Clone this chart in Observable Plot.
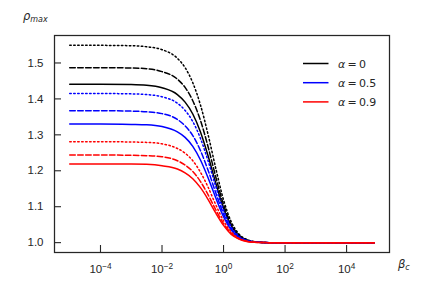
<!DOCTYPE html>
<html>
<head>
<meta charset="utf-8">
<script src="https://cdn.jsdelivr.net/npm/d3@7"></script>
<script src="https://cdn.jsdelivr.net/npm/@observablehq/plot@0.6"></script>
<style>
  html, body { margin: 0; padding: 0; background: #fff; }
  #chart { width: 432px; height: 288px; }
</style>
</head>
<body>
<div id="chart"></div>
<script>
// beta_c sample positions
const betaC = [1e-5, 1e-4, 1e-3, 3.16e-3, 1e-2, 3.16e-2, 5.62e-2, 0.1, 0.178, 0.316, 0.562, 1, 1.78, 3.16, 5.62, 10, 31.6, 100, 1000, 1e4, 7.94e4];

// alpha = 0 (black)
const rhoA0Solid  = [1.441,1.441,1.440,1.438,1.431,1.412,1.391,1.358,1.308,1.241,1.165,1.096,1.047,1.019,1.007,1.002,1.000,1.000,1.000,1.000,1.000];
const rhoA0Dashed = [1.487,1.487,1.486,1.484,1.476,1.455,1.432,1.395,1.340,1.266,1.182,1.106,1.051,1.021,1.008,1.002,1.000,1.000,1.000,1.000,1.000];
const rhoA0Dotted = [1.549,1.549,1.548,1.545,1.537,1.513,1.487,1.445,1.383,1.300,1.206,1.119,1.058,1.024,1.009,1.003,1.000,1.000,1.000,1.000,1.000];
// alpha = 0.5 (blue)
const rhoA5Solid  = [1.330,1.330,1.329,1.328,1.323,1.308,1.293,1.268,1.230,1.180,1.124,1.072,1.035,1.014,1.005,1.002,1.000,1.000,1.000,1.000,1.000];
const rhoA5Dashed = [1.367,1.367,1.366,1.364,1.359,1.343,1.325,1.298,1.256,1.201,1.138,1.080,1.039,1.016,1.006,1.002,1.000,1.000,1.000,1.000,1.000];
const rhoA5Dotted = [1.415,1.415,1.414,1.412,1.406,1.388,1.368,1.337,1.290,1.227,1.156,1.090,1.044,1.018,1.006,1.002,1.000,1.000,1.000,1.000,1.000];
// alpha = 0.9 (red)
const rhoA9Solid  = [1.219,1.219,1.219,1.218,1.214,1.205,1.194,1.178,1.153,1.120,1.082,1.048,1.023,1.010,1.003,1.001,1.000,1.000,1.000,1.000,1.000];
const rhoA9Dashed = [1.244,1.244,1.243,1.242,1.239,1.228,1.216,1.198,1.170,1.133,1.091,1.053,1.026,1.011,1.004,1.001,1.000,1.000,1.000,1.000,1.000];
const rhoA9Dotted = [1.281,1.281,1.280,1.279,1.275,1.262,1.249,1.228,1.196,1.154,1.105,1.061,1.030,1.012,1.004,1.001,1.000,1.000,1.000,1.000,1.000];

const alphaLabels = ["α = 0", "α = 0.5", "α = 0.9"];
const alphaColors = ["#000000", "#0000ff", "#ff0000"];
const xTicks = [1e-4, 1e-2, 1, 1e2, 1e4];
const yTicks = [1.0, 1.1, 1.2, 1.3, 1.4, 1.5];

const dashes = { solid: null, dashed: "5.55,2.4", dotted: "1.5,2.475" };
const seriesList = [
  { values: rhoA0Solid,  alpha: 0, style: "solid" },
  { values: rhoA0Dashed, alpha: 0, style: "dashed" },
  { values: rhoA0Dotted, alpha: 0, style: "dotted" },
  { values: rhoA5Solid,  alpha: 1, style: "solid" },
  { values: rhoA5Dashed, alpha: 1, style: "dashed" },
  { values: rhoA5Dotted, alpha: 1, style: "dotted" },
  { values: rhoA9Solid,  alpha: 2, style: "solid" },
  { values: rhoA9Dashed, alpha: 2, style: "dashed" },
  { values: rhoA9Dotted, alpha: 2, style: "dotted" }
];

const ink = "#262626";
const W = 432, H = 288, mL = 54, mR = 43, mT = 35, mB = 36;
const plotH = H - mT - mB, plotW = W - mL - mR;
const tickLen = 7;

const lineMarks = seriesList.map(s => Plot.line(
  betaC.map((b, i) => ({ b, r: s.values[i] })),
  { x: "b", y: "r", stroke: alphaColors[s.alpha], strokeWidth: 1.5,
    strokeDasharray: dashes[s.style], curve: "monotone-x" }
));

const svg = Plot.plot({
  width: W, height: H,
  marginLeft: mL, marginRight: mR, marginTop: mT, marginBottom: mB,
  style: { fontFamily: "'Liberation Sans', Arial, sans-serif", fontSize: "11.5px", color: ink, background: "#fff" },
  x: { type: "log", domain: [Math.pow(10, -5.495), Math.pow(10, 5.395)] },
  y: { domain: [0.97255, 1.57645] },
  marks: [
    ...lineMarks,
    Plot.tickX(xTicks, { x: d => d, stroke: ink, strokeWidth: 1.1, insetTop: plotH - tickLen }),
    Plot.tickY(yTicks, { y: d => d, stroke: ink, strokeWidth: 1.1, insetRight: plotW - tickLen }),
    Plot.axisX({ ticks: xTicks, tickSize: 0, tickPadding: 12, label: null, fontSize: 11.5,
      tickFormat: d => "E" + Math.round(Math.log10(d)), fill: ink }),
    Plot.axisY({ ticks: yTicks, tickSize: 0, tickPadding: 11, label: null, fontSize: 11.5,
      tickFormat: d => d.toFixed(1), fill: ink }),
    Plot.frame({ stroke: ink, strokeWidth: 1.25 })
  ]
});

// superscript exponents on the log-axis labels
d3.select(svg).selectAll('g[aria-label="x-axis tick label"] text').each(function () {
  const t = d3.select(this);
  const m = t.text().match(/-?\d+/);
  const e = m ? parseInt(m[0], 10) : 0;
  t.text("10");
  t.append("tspan").attr("dy", "-0.5em").attr("font-size", "0.72em").text(e < 0 ? "\u2212" + (-e) : String(e));
});

const s = d3.select(svg);
// y-axis title rho_max
const yl = s.append("text").attr("x", 23).attr("y", 20).attr("text-anchor", "start")
  .attr("font-family", "'DejaVu Sans', sans-serif").attr("font-style", "italic")
  .attr("font-size", 11.5).attr("fill", ink);
yl.append("tspan").text("ρ");
yl.append("tspan").attr("dy", 2).attr("font-size", 8).text("max");
// x-axis title beta_c
const xl = s.append("text").attr("x", 398).attr("y", 268).attr("text-anchor", "start")
  .attr("font-family", "'DejaVu Sans', sans-serif").attr("font-style", "italic")
  .attr("font-size", 11.5).attr("fill", ink);
xl.append("tspan").text("β");
xl.append("tspan").attr("dy", 2).attr("font-size", 8).text("c");

// legend
const lg = s.append("g").attr("text-anchor", "start");
alphaLabels.forEach((lab, i) => {
  const y = 63.5 + i * 19.2;
  lg.append("line").attr("x1", 303).attr("x2", 328.5).attr("y1", y).attr("y2", y)
    .attr("stroke", alphaColors[i]).attr("stroke-width", 1.5);
  const t = lg.append("text").attr("x", 338).attr("y", y + 4).attr("text-anchor", "start")
    .attr("font-family", "'DejaVu Sans', sans-serif").attr("font-size", 11).attr("fill", ink);
  const parts = lab.split(" = ");
  t.append("tspan").attr("font-style", "italic").text("α");
  t.append("tspan").text("\u2009=\u2009" + parts[1]);
});

document.getElementById("chart").appendChild(svg);
</script>
</body>
</html>
